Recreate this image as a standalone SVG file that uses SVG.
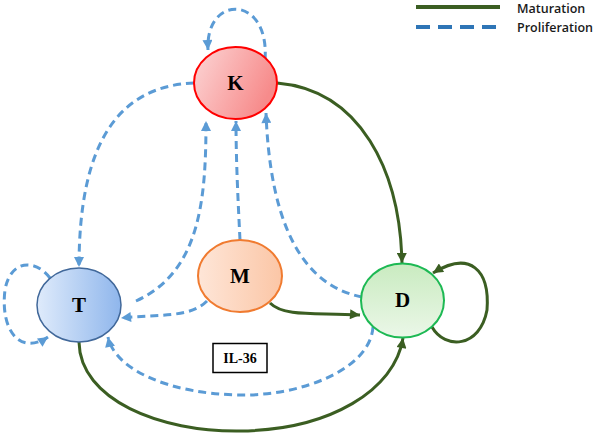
<svg xmlns="http://www.w3.org/2000/svg" width="603" height="434" viewBox="0 0 603 434">
<defs>
<linearGradient id="gK" x1="0" y1="0" x2="1" y2="0.4"><stop offset="0" stop-color="#fcd6d6"/><stop offset="1" stop-color="#f78b8b"/></linearGradient>
<linearGradient id="gT" x1="0" y1="0" x2="1" y2="0"><stop offset="0" stop-color="#dfebfb"/><stop offset="1" stop-color="#8fb6ec"/></linearGradient>
<linearGradient id="gM" x1="0" y1="0" x2="1" y2="0"><stop offset="0" stop-color="#fee6d8"/><stop offset="1" stop-color="#fbc6a6"/></linearGradient>
<linearGradient id="gD" x1="0" y1="0" x2="0" y2="1"><stop offset="0" stop-color="#c9ebc0"/><stop offset="1" stop-color="#ebf7e8"/></linearGradient>
<marker id="aB" viewBox="0 0 10 10" refX="10" refY="5" markerWidth="11" markerHeight="10" markerUnits="userSpaceOnUse" orient="auto"><path d="M0,0 L10,5 L0,10 z" fill="#5b9bd5"/></marker>
<marker id="aG" viewBox="0 0 10 10" refX="10" refY="5" markerWidth="11" markerHeight="10" markerUnits="userSpaceOnUse" orient="auto"><path d="M0,0 L10,5 L0,10 z" fill="#3b5e22"/></marker>
</defs>
<style>
.p{fill:none;stroke:#5b9bd5;stroke-width:3;stroke-dasharray:8 5;marker-end:url(#aB)}
.m{fill:none;stroke:#3b5e22;stroke-width:3;marker-end:url(#aG)}
.lbl{font-family:"Liberation Serif",serif;font-weight:bold;font-size:21px;text-anchor:middle;fill:#000}
.leg{font-family:"Open Sans","Liberation Sans",sans-serif;font-weight:600;font-size:12.5px;fill:#1a1a1a}
</style>
<g id="connectors">
<path class="p" d="M265,60 C270,-6 205,-6 208,50"/>
<path class="p" d="M194,83 C120,86 79,140 79,267"/>
<path class="p" d="M50,278 C35,258 10,260 5,290 C0,330 20,356 48,337"/>
<path class="p" d="M136,301 C200,272 206,200 206,121"/>
<path class="p" d="M240,240 C238,200 236,160 236,121"/>
<path class="p" d="M362,297 C300,285 270,220 266,113"/>
<path class="p" d="M207,301 C190,318 160,314 121,318"/>
<path class="m" d="M270,303 C285,318 320,312 360,315"/>
<path class="m" d="M277,83 C360,90 400,170 402,263"/>
<path class="m" d="M432,327 C445,350 480,348 487,310 C490,270 470,250 433,273"/>
<path class="m" d="M79,342 C80,400 160,432 240,431 C330,430 395,390 403,338"/>
<path class="p" d="M373,327 C370,370 300,396 240,395 C170,394 115,370 108,337"/>
</g>
<g id="K"><ellipse cx="235.5" cy="83" rx="41.5" ry="36" fill="url(#gK)" stroke="#ff0000" stroke-width="2"/><text class="lbl" x="235.5" y="90">K</text></g>
<g id="M"><ellipse cx="240" cy="276" rx="42" ry="36" fill="url(#gM)" stroke="#f07b30" stroke-width="2"/><text class="lbl" x="240" y="283">M</text></g>
<g id="T"><ellipse cx="79" cy="305" rx="42" ry="37" fill="url(#gT)" stroke="#41689a" stroke-width="1.5"/><text class="lbl" x="79" y="312">T</text></g>
<g id="D"><ellipse cx="402.5" cy="300.5" rx="41.5" ry="37" fill="url(#gD)" stroke="#1db954" stroke-width="2"/><text class="lbl" x="402.5" y="307">D</text></g>
<g id="IL36"><rect x="213" y="343.5" width="54" height="29" fill="#fff" stroke="#000" stroke-width="1.5"/><text x="240" y="363" font-family="Liberation Serif,serif" font-weight="bold" font-size="14" text-anchor="middle">IL-36</text></g>
<g id="legend">
<line x1="416" y1="7" x2="500" y2="7" stroke="#3b5e22" stroke-width="4"/>
<line x1="416" y1="27" x2="502" y2="27" stroke="#2e75b6" stroke-width="4" stroke-dasharray="14 8"/>
<text class="leg" x="517" y="13">Maturation</text>
<text class="leg" x="517" y="32">Proliferation</text>
</g>
</svg>
